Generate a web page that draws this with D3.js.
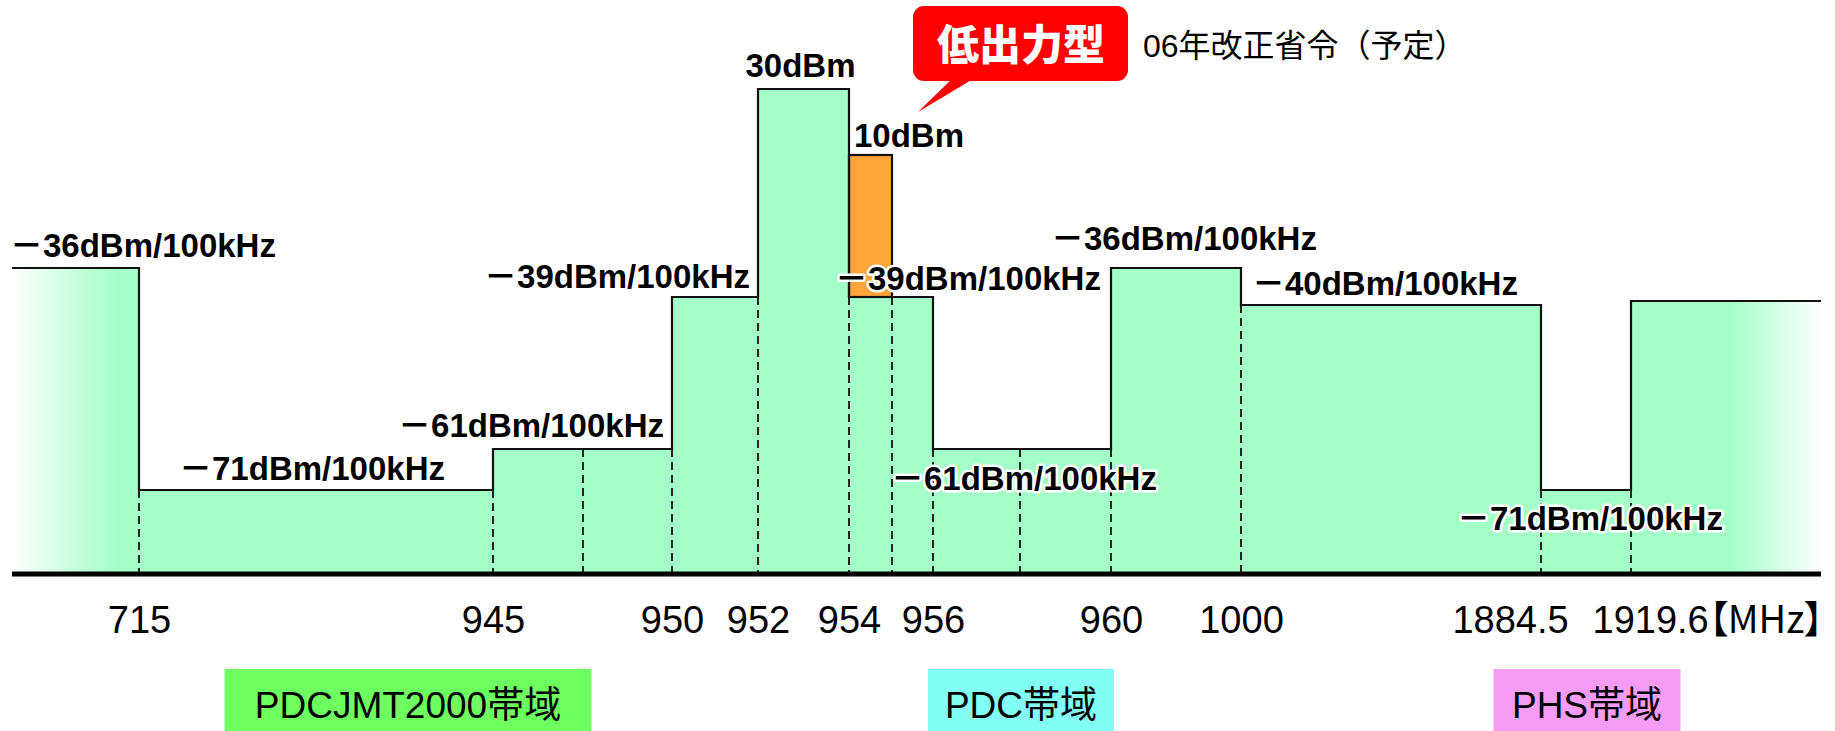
<!DOCTYPE html>
<html lang="ja">
<head>
<meta charset="utf-8">
<script src="https://cdn.jsdelivr.net/npm/d3@7"></script>
<style>
  body { margin: 0; background: #fff; }
  svg { display: block; }
</style>
</head>
<body>
<div id="chart"></div>
<script>
// step edges (MHz) and the level of each step (dBm), left to right
const edges = [715, 945, 947.5, 950, 952, 954, 955, 956, 958, 960, 1000, 1884.5, 1919.6];
const levels = [-36, -71, -61, -61, -39, 30, -39, -39, -61, -61, -36, -40, -71, -39.5];

// low power type (orange block)
const lowPowerBand = [954, 955];
const lowPowerDbm = 10;
const lowPowerBase = -39;

const tickValues = [715, 945, 950, 952, 954, 956, 960, 1000, 1884.5, 1919.6];
const tickLabels = ["715", "945", "950", "952", "954", "956", "960", "1000", "1884.5", "1919.6"];
const unitLabel = "【MHz】";

// level annotations
const labelDbm = [-36, -71, -61, -39, 30, 10, -39, -36, -40, -61, -71];
const labelFreq = [null, 830, 950, 952, 953, 954, 954, 960, 1000, 955, 1884.5];

const bandNames = ["PDCJMT2000帯域", "PDC帯域", "PHS帯域"];
const bandColors = ["#6dff5f", "#83fff5", "#f59df6"];

const calloutText = "低出力型";
const noteText = "06年改正省令（予定）";

// ---- layout ----
const width = 1835;
const height = 731;
const plotLeft = 12;
const plotRight = 1821;
const baseY = 574;
const green = "#a3ffc7";
const orange = "#ffa53a";
const labelFont = "'Liberation Sans', 'Noto Sans CJK JP', sans-serif";

// broken (schematic) axes: piecewise linear
const x = d3.scaleLinear()
  .domain(edges)
  .range([139, 493, 583, 672, 758, 849, 892, 933, 1020, 1111, 1241, 1541, 1631]);

const y = d3.scaleLinear()
  .domain([-71, -61, -40, -39, -36, 10, 30])
  .range([490, 449, 305, 297, 268, 155, 89]);

const labelPlace = [
  { anchor: "start", dx: -2, dy: -11 },
  { anchor: "middle", dx: -4, dy: -10 },
  { anchor: "end", dx: -8, dy: -12 },
  { anchor: "end", dx: -8, dy: -9 },
  { anchor: "middle", dx: -3, dy: -12 },
  { anchor: "start", dx: 5, dy: -8 },
  { anchor: "start", dx: -14, dy: -7 },
  { anchor: "start", dx: -60, dy: -18 },
  { anchor: "start", dx: 11, dy: -10 },
  { anchor: "start", dx: -1, dy: 41 },
  { anchor: "start", dx: -84, dy: 40 },
];

const bandBoxX = [408, 1021, 1587];
const bandBoxW = [367, 186, 187];

const svg = d3.select("#chart")
  .append("svg")
  .attr("width", width)
  .attr("height", height)
  .attr("viewBox", `0 0 ${width} ${height}`);

// fading ends
const defs = svg.append("defs");
const fadeL = defs.append("linearGradient")
  .attr("id", "fadeL")
  .attr("gradientUnits", "userSpaceOnUse")
  .attr("x1", plotLeft).attr("x2", plotLeft + 105).attr("y1", 0).attr("y2", 0);
fadeL.append("stop").attr("offset", 0).attr("stop-color", "#fff");
fadeL.append("stop").attr("offset", 1).attr("stop-color", green);

const fadeR = defs.append("linearGradient")
  .attr("id", "fadeR")
  .attr("gradientUnits", "userSpaceOnUse")
  .attr("x1", plotRight - 92).attr("x2", plotRight).attr("y1", 0).attr("y2", 0);
fadeR.append("stop").attr("offset", 0).attr("stop-color", green);
fadeR.append("stop").attr("offset", 1).attr("stop-color", "#fff");

const last = levels.length - 1;
const segX0 = (i) => (i === 0 ? plotLeft : x(edges[i - 1]));
const segX1 = (i) => (i === last ? plotRight : x(edges[i]));

// bars
svg.append("g")
  .selectAll("rect")
  .data(levels)
  .join("rect")
  .attr("x", (d, i) => segX0(i))
  .attr("width", (d, i) => segX1(i) - segX0(i))
  .attr("y", (d) => y(d))
  .attr("height", (d) => baseY - y(d))
  .attr("fill", (d, i) => (i === 0 ? "url(#fadeL)" : i === last ? "url(#fadeR)" : green));

// low power block
svg.append("rect")
  .attr("x", x(lowPowerBand[0]))
  .attr("width", x(lowPowerBand[1]) - x(lowPowerBand[0]))
  .attr("y", y(lowPowerDbm))
  .attr("height", y(lowPowerBase) - y(lowPowerDbm))
  .attr("fill", orange)
  .attr("stroke", "#111")
  .attr("stroke-width", 2.2);

// dashed dividers
svg.append("g")
  .selectAll("line")
  .data(edges)
  .join("line")
  .attr("x1", (d) => x(d))
  .attr("x2", (d) => x(d))
  .attr("y1", (d, i) => Math.max(y(levels[i]), y(levels[i + 1])))
  .attr("y2", baseY)
  .attr("stroke", "#111")
  .attr("stroke-width", 1.8)
  .attr("stroke-dasharray", "8,5");

// step outline
let stepD = `M${plotLeft},${y(levels[0])}`;
edges.forEach((e, i) => {
  stepD += `H${x(e)}V${y(levels[i + 1])}`;
});
stepD += `H${plotRight}`;
svg.append("path")
  .attr("d", stepD)
  .attr("fill", "none")
  .attr("stroke", "#111")
  .attr("stroke-width", 2.2);

// baseline
svg.append("line")
  .attr("x1", plotLeft)
  .attr("x2", plotRight)
  .attr("y1", baseY)
  .attr("y2", baseY)
  .attr("stroke", "#000")
  .attr("stroke-width", 5);

// frequency ticks
const axis = svg.append("g")
  .attr("transform", `translate(0,${baseY})`)
  .call(
    d3.axisBottom(x)
      .tickValues(tickValues)
      .tickFormat((d, i) => tickLabels[i])
      .tickSize(0)
      .tickPadding(32)
  );
axis.select(".domain").remove();
axis.selectAll("text")
  .attr("font-family", labelFont)
  .attr("font-size", 38)
  .attr("fill", "#000");
axis.selectAll(".tick")
  .filter((d) => d === 1884.5)
  .select("text")
  .attr("x", -31);
const unitTick = axis.selectAll(".tick")
  .filter((d) => d === 1919.6)
  .select("text")
  .attr("text-anchor", "start")
  .attr("x", -39);
unitTick.append("tspan")
  .style("font-feature-settings", "'palt'")
  .attr("font-family", "'Noto Sans CJK JP', sans-serif")
  .text(unitLabel);

// level labels
const labelText = (d) => (d < 0 ? `－${-d}dBm/100kHz` : `${d}dBm`);
svg.append("g")
  .selectAll("text")
  .data(labelDbm)
  .join("text")
  .attr("x", (d, i) => (labelFreq[i] === null ? plotLeft : x(labelFreq[i])) + labelPlace[i].dx)
  .attr("y", (d, i) => y(d) + labelPlace[i].dy)
  .attr("text-anchor", (d, i) => labelPlace[i].anchor)
  .attr("font-family", labelFont)
  .attr("font-weight", "bold")
  .attr("font-size", 33)
  .attr("fill", "#000")
  .attr("stroke", "#fff")
  .attr("stroke-width", 5)
  .attr("stroke-linejoin", "round")
  .attr("paint-order", "stroke")
  .text(labelText);

// callout for the low power type
const callout = svg.append("g");
callout.append("path")
  .attr("d", "M955,76 L978,76 L918,112 Z")
  .attr("fill", "#ff0000");
callout.append("rect")
  .attr("x", 913)
  .attr("y", 6)
  .attr("width", 215)
  .attr("height", 75)
  .attr("rx", 11)
  .attr("fill", "#ff0000");
callout.append("text")
  .attr("x", 1021)
  .attr("y", 60)
  .attr("text-anchor", "middle")
  .attr("font-family", "'Noto Sans CJK JP', sans-serif")
  .attr("font-weight", 900)
  .attr("font-size", 42)
  .attr("fill", "#fff")
  .text(calloutText);

svg.append("text")
  .attr("x", 1143)
  .attr("y", 57)
  .attr("font-family", labelFont)
  .attr("font-size", 32)
  .attr("fill", "#000")
  .text(noteText);

// band boxes
const bands = svg.append("g")
  .selectAll("g")
  .data(bandNames)
  .join("g")
  .attr("transform", (d, i) => `translate(${bandBoxX[i]},0)`);
bands.append("rect")
  .attr("x", (d, i) => -bandBoxW[i] / 2)
  .attr("y", 669)
  .attr("width", (d, i) => bandBoxW[i])
  .attr("height", 62)
  .attr("fill", (d, i) => bandColors[i]);
bands.append("text")
  .attr("y", 718)
  .attr("text-anchor", "middle")
  .attr("font-family", labelFont)
  .attr("font-size", 37)
  .attr("fill", "#000")
  .text((d) => d);
</script>
</body>
</html>
